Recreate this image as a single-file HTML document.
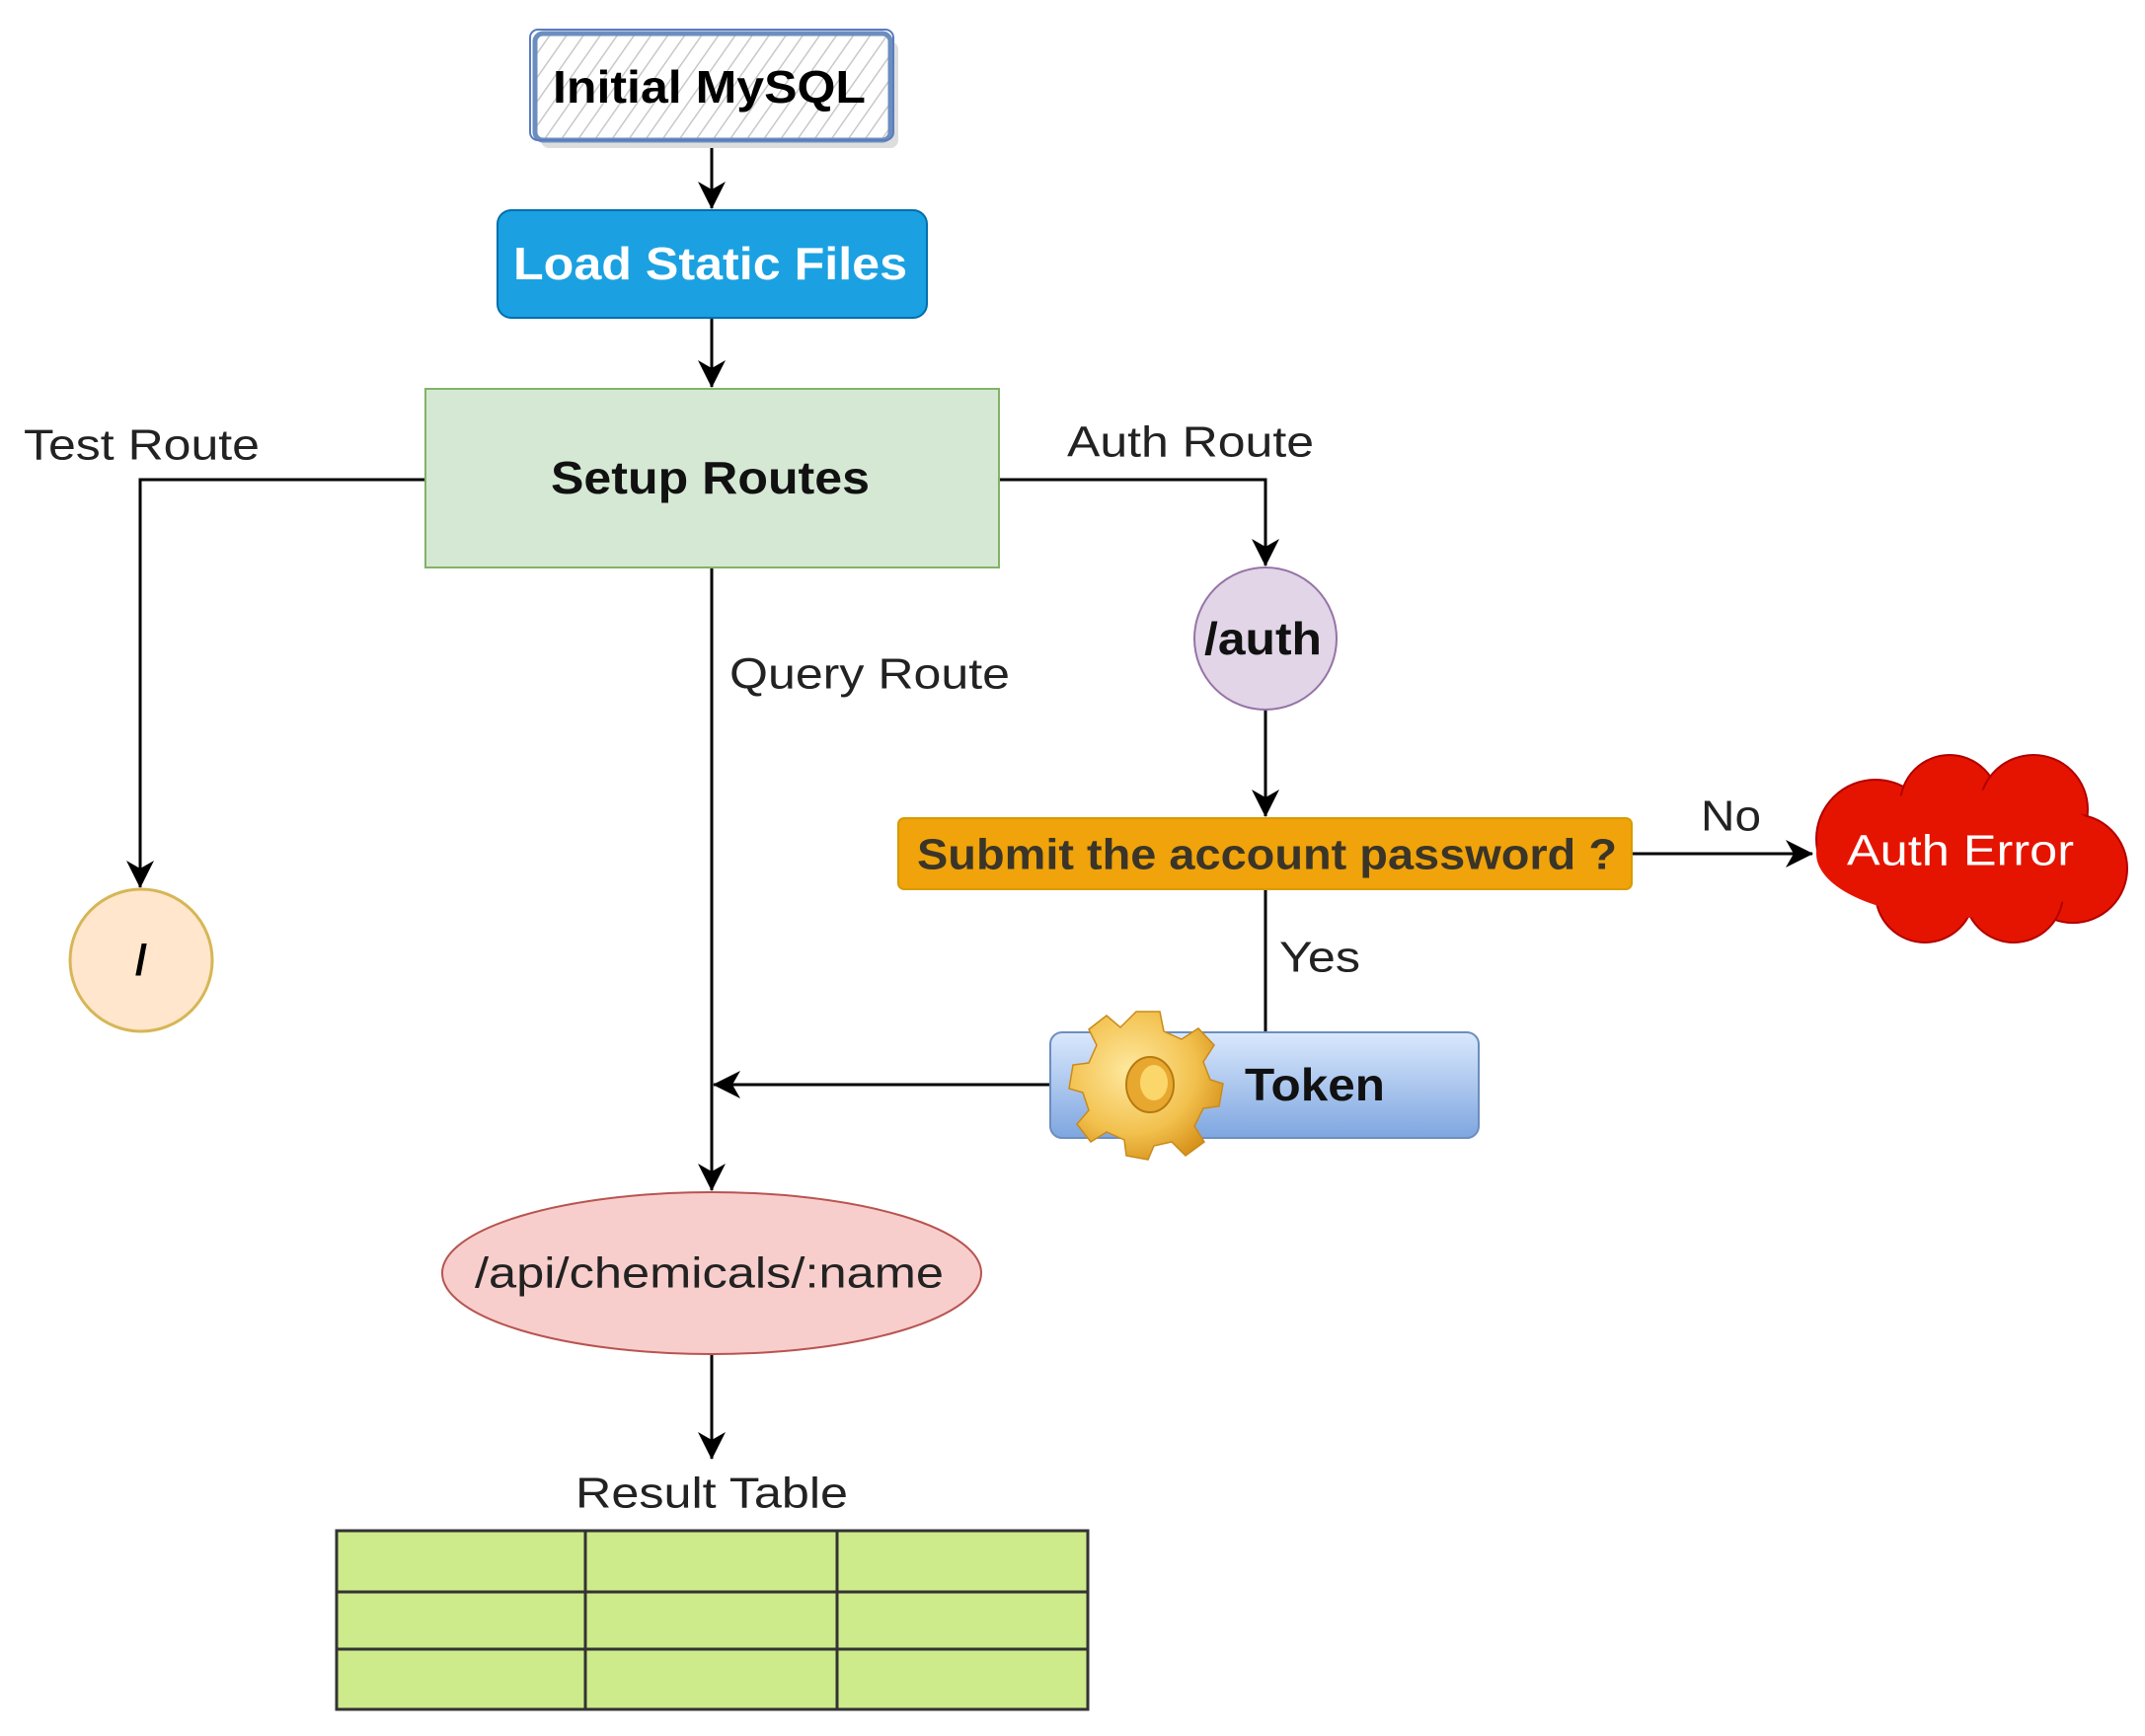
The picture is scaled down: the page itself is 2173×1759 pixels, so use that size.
<!DOCTYPE html>
<html><head><meta charset="utf-8"><style>html,body{margin:0;padding:0;background:#fff}svg{display:block}</style></head>
<body>
<svg width="2173" height="1759" viewBox="0 0 2173 1759" xmlns="http://www.w3.org/2000/svg" font-family="Liberation Sans, Arial, sans-serif">
<defs>
<pattern id="hatch" width="14" height="14" patternUnits="userSpaceOnUse" patternTransform="rotate(35)">
<rect width="14" height="14" fill="#fff"/><line x1="0" y1="0" x2="0" y2="14" stroke="#c8c8c8" stroke-width="3"/></pattern>
<linearGradient id="tok" x1="0" y1="0" x2="0" y2="1"><stop offset="0" stop-color="#dae8fc"/><stop offset="1" stop-color="#7ea6e0"/></linearGradient>
<radialGradient id="gear" cx="0.4" cy="0.4" r="0.7"><stop offset="0" stop-color="#ffe9a0"/><stop offset="0.6" stop-color="#f2c14e"/><stop offset="1" stop-color="#d38b12"/></radialGradient>
<marker id="ar" markerWidth="30" markerHeight="28" refX="27" refY="14" orient="auto" markerUnits="userSpaceOnUse"><path d="M0,0 L28,14 L0,28 L8,14 Z" fill="#000"/></marker>
</defs>
<g stroke="#000" stroke-width="3" fill="none">
<line x1="721" y1="143" x2="721" y2="211" marker-end="url(#ar)"/>
<line x1="721" y1="322" x2="721" y2="392" marker-end="url(#ar)"/>
<polyline points="431,486 142,486 142,899" marker-end="url(#ar)"/>
<polyline points="1012,486 1282,486 1282,573" marker-end="url(#ar)"/>
<line x1="1282" y1="719" x2="1282" y2="827" marker-end="url(#ar)"/>
<line x1="1653" y1="865" x2="1836" y2="865" marker-end="url(#ar)"/>
<line x1="1282" y1="901" x2="1282" y2="1046"/>
<line x1="1064" y1="1099" x2="723" y2="1099" marker-end="url(#ar)"/>
<line x1="721" y1="575" x2="721" y2="1206" marker-end="url(#ar)"/>
<line x1="721" y1="1372" x2="721" y2="1478" marker-end="url(#ar)"/>
</g>
<!-- Initial MySQL -->
<rect x="548" y="42" width="362" height="108" fill="#ddd" rx="8"/>
<rect x="542" y="34" width="360" height="108" fill="url(#hatch)" stroke="#6c8ebf" stroke-width="5" rx="8"/>
<rect x="537" y="30" width="368" height="112" fill="none" stroke="#5a7cbf" stroke-width="2" rx="8"/>
<text x="560" y="88" font-size="46" font-weight="bold" textLength="317" lengthAdjust="spacingAndGlyphs" dominant-baseline="central">Initial MySQL</text>
<!-- Load static -->
<rect x="504" y="213" width="435" height="109" rx="14" fill="#1ba1e2" stroke="#006eaf" stroke-width="2"/>
<text x="520" y="267" font-size="46" font-weight="bold" fill="#fff" textLength="399" lengthAdjust="spacingAndGlyphs" dominant-baseline="central">Load Static Files</text>
<!-- Setup -->
<rect x="431" y="394" width="581" height="181" fill="#d5e8d4" stroke="#82b366" stroke-width="2"/>
<text x="558" y="484" font-size="46" font-weight="bold" fill="#111" textLength="323" lengthAdjust="spacingAndGlyphs" dominant-baseline="central">Setup Routes</text>
<text x="24" y="451" font-size="44" fill="#222" textLength="239" lengthAdjust="spacingAndGlyphs" dominant-baseline="central">Test Route</text>
<text x="1081" y="448" font-size="44" fill="#222" textLength="250" lengthAdjust="spacingAndGlyphs" dominant-baseline="central">Auth Route</text>
<text x="739" y="683" font-size="44" fill="#222" textLength="284" lengthAdjust="spacingAndGlyphs" dominant-baseline="central">Query Route</text>
<!-- circles -->
<circle cx="1282" cy="647" r="72" fill="#e1d5e7" stroke="#9673a6" stroke-width="2"/>
<text x="1220" y="647" font-size="46" font-weight="bold" fill="#111" textLength="119" lengthAdjust="spacingAndGlyphs" dominant-baseline="central">/auth</text>
<circle cx="143" cy="973" r="72" fill="#ffe6cc" stroke="#d6b656" stroke-width="3"/>
<text x="143" y="973" font-size="44" font-weight="bold" text-anchor="middle" dominant-baseline="central">/</text>
<!-- decision -->
<rect x="910" y="829" width="743" height="72" rx="6" fill="#f0a30a" stroke="#d79b00" stroke-width="2"/>
<text x="929" y="866" font-size="44" font-weight="bold" fill="#3a3528" textLength="709" lengthAdjust="spacingAndGlyphs" dominant-baseline="central">Submit the account password ?</text>
<text x="1723" y="827" font-size="44" fill="#222" textLength="61" lengthAdjust="spacingAndGlyphs" dominant-baseline="central">No</text>
<text x="1296" y="970" font-size="44" fill="#222" textLength="82" lengthAdjust="spacingAndGlyphs" dominant-baseline="central">Yes</text>
<!-- cloud -->
<g fill="#e51400" stroke="#b20000" stroke-width="2">
<circle cx="1900" cy="850" r="60"/><circle cx="1975" cy="815" r="50"/><circle cx="2060" cy="820" r="55"/>
<circle cx="2100" cy="880" r="55"/><circle cx="2040" cy="905" r="50"/><circle cx="1950" cy="905" r="50"/>
<ellipse cx="1990" cy="865" rx="150" ry="65" stroke="none"/>
</g>
<text x="1871" y="862" font-size="44" fill="#fff" textLength="230" lengthAdjust="spacingAndGlyphs" dominant-baseline="central">Auth Error</text>
<!-- token -->
<rect x="1064" y="1046" width="434" height="107" rx="12" fill="url(#tok)" stroke="#6c8ebf" stroke-width="2"/>
<g transform="translate(1163,1097)">
<g fill="url(#gear)" stroke="#c98a1a" stroke-width="1.5">
<path d="M-12,-72 L12,-72 L16,-52 L34,-44 L51,-55 L67,-38 L56,-21 L63,-3 L76,1 L72,24 L56,26 L47,44 L57,60 L38,74 L24,60 L6,64 L0,78 L-22,74 L-24,58 L-42,50 L-58,60 L-72,42 L-60,28 L-66,10 L-80,6 L-76,-18 L-60,-20 L-52,-38 L-60,-54 L-42,-68 L-28,-56 Z"/>
</g>
<ellipse cx="2" cy="2" rx="24" ry="28" fill="#e8a830" stroke="#b67a10" stroke-width="2"/>
<ellipse cx="6" cy="0" rx="14" ry="18" fill="#fbd66a"/>
</g>
<text x="1261" y="1099" font-size="46" font-weight="bold" fill="#111" textLength="142" lengthAdjust="spacingAndGlyphs" dominant-baseline="central">Token</text>
<!-- ellipse -->
<ellipse cx="721" cy="1290" rx="273" ry="82" fill="#f8cecc" stroke="#b85450" stroke-width="2"/>
<text x="481" y="1290" font-size="44" fill="#222" textLength="475" lengthAdjust="spacingAndGlyphs" dominant-baseline="central">/api/chemicals/:name</text>
<text x="583" y="1513" font-size="44" fill="#222" textLength="276" lengthAdjust="spacingAndGlyphs" dominant-baseline="central">Result Table</text>
<!-- table -->
<rect x="341" y="1551" width="761" height="181" fill="#cdeb8b" stroke="#333" stroke-width="3"/>
<g stroke="#333" stroke-width="3">
<line x1="593" y1="1551" x2="593" y2="1732"/><line x1="848" y1="1551" x2="848" y2="1732"/>
<line x1="341" y1="1613" x2="1102" y2="1613"/><line x1="341" y1="1671" x2="1102" y2="1671"/>
</g>
</svg>
</body></html>
